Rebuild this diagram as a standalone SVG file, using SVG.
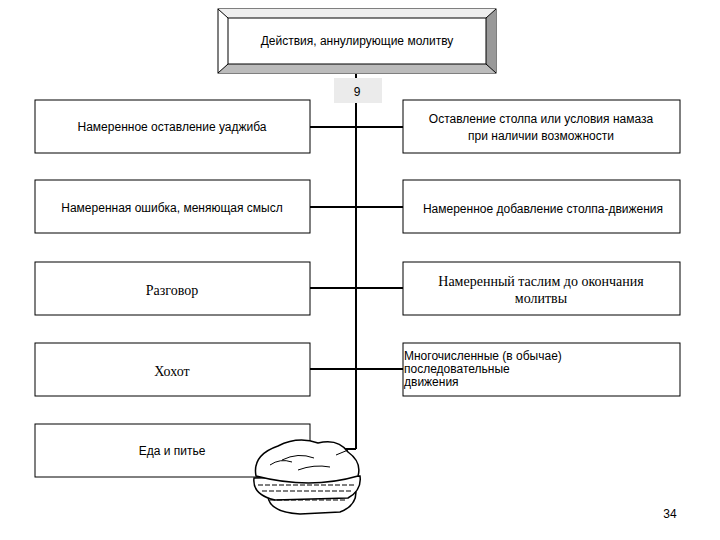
<svg xmlns="http://www.w3.org/2000/svg" width="720" height="540" viewBox="0 0 720 540">
<style>
.b{fill:#fff;stroke:#000;stroke-width:1}
.s{font-family:"Liberation Sans",Arial,sans-serif;font-size:12px;fill:#000}
.r{font-family:"Liberation Serif","Times New Roman",serif;font-size:14px;fill:#000}
.c{stroke:#000;stroke-width:2;fill:none}
</style>
<rect width="720" height="540" fill="#fff"/>
<g id="connectors">
<line class="c" x1="356" y1="74" x2="356" y2="449"/>
<line class="c" x1="310" y1="127" x2="403" y2="127"/>
<line class="c" x1="310" y1="207" x2="403" y2="207"/>
<line class="c" x1="310" y1="288" x2="403" y2="288"/>
<line class="c" x1="310" y1="369" x2="403" y2="369"/>
<line class="c" x1="310" y1="449" x2="356" y2="449"/>
</g>
<g id="title">
<rect x="218" y="9" width="278" height="64" fill="#fff" stroke="#000"/>
<polygon points="486,18 496,9 496,73 486,64" fill="#999"/>
<polygon points="228,64 486,64 496,73 218,73" fill="#bbb"/>
<polygon points="218,9 496,9 486,18 228,18" fill="#eee"/>
<rect x="228" y="18" width="258" height="46" fill="#fff" stroke="#000"/>
<line x1="218" y1="9" x2="228" y2="18" stroke="#000"/><line x1="496" y1="9" x2="486" y2="18" stroke="#000"/>
<line x1="218" y1="73" x2="228" y2="64" stroke="#000"/><line x1="496" y1="73" x2="486" y2="64" stroke="#000"/>
<text class="s" x="357" y="45" text-anchor="middle">Действия, аннулирующие молитву</text>
</g>
<g id="num"><rect x="334" y="78" width="48" height="25" fill="#ebebeb"/><text class="s" x="357" y="96" text-anchor="middle" font-size="13">9</text></g>
<g id="l1"><rect class="b" x="35" y="100" width="275" height="53"/><text class="s" x="172" y="131" text-anchor="middle">Намеренное оставление уаджиба</text></g>
<g id="l2"><rect class="b" x="35" y="180" width="275" height="53"/><text class="s" x="172" y="212" text-anchor="middle">Намеренная ошибка, меняющая смысл</text></g>
<g id="l3"><rect class="b" x="35" y="262" width="275" height="53"/><text class="r" x="172" y="295" text-anchor="middle">Разговор</text></g>
<g id="l4"><rect class="b" x="35" y="343" width="275" height="53"/><text class="r" x="172" y="376" text-anchor="middle">Хохот</text></g>
<g id="l5"><rect class="b" x="35" y="424" width="275" height="53"/><text class="s" x="172" y="455" text-anchor="middle">Еда и питье</text></g>
<g id="r1"><rect class="b" x="403" y="100" width="277" height="53"/><text class="s" x="541" y="123" text-anchor="middle" font-size="13">Оставление столпа или условия намаза</text><text class="s" x="541" y="140" text-anchor="middle" font-size="13">при наличии возможности</text></g>
<g id="r2"><rect class="b" x="403" y="180" width="277" height="53"/><text class="s" x="543" y="213" text-anchor="middle" font-size="13">Намеренное добавление столпа-движения</text></g>
<g id="r3"><rect class="b" x="403" y="262" width="277" height="53"/><text class="r" x="541" y="286" text-anchor="middle" font-size="13">Намеренный таслим до окончания</text><text class="r" x="541" y="303" text-anchor="middle" font-size="13">молитвы</text></g>
<g id="r4"><rect class="b" x="403" y="343" width="277" height="53"/><text class="s" x="404" y="360" font-size="10">Многочисленные (в обычае)</text><text class="s" x="404" y="373" font-size="10">последовательные</text><text class="s" x="404" y="386" font-size="10">движения</text></g>
<g id="sandwich" fill="#fff" stroke="#000" stroke-width="1.5">
<path d="M268,495 Q268,512 300,514 L340,512 Q356,506 356,492 Z"/>
<path d="M254,478 Q252,495 275,500 L348,498 Q362,490 360,476 Z"/>
<path d="M256,476 Q252,455 278,446 Q298,436 318,443 Q338,438 348,452 Q362,462 358,476 Q310,490 256,476 Z"/>
<path d="M282,460 Q298,452 314,458 M298,470 Q314,464 330,467 M336,455 L348,450 M270,465 Q280,458 292,462" fill="none" stroke-width="1"/>
<path d="M258,485 L356,485 M262,491 L352,491 M270,500 L345,500" fill="none" stroke-width="1.2" stroke-dasharray="5,2"/>
</g>
<text class="s" x="670" y="518" text-anchor="middle" font-size="11" fill="#555">34</text>
</svg>
